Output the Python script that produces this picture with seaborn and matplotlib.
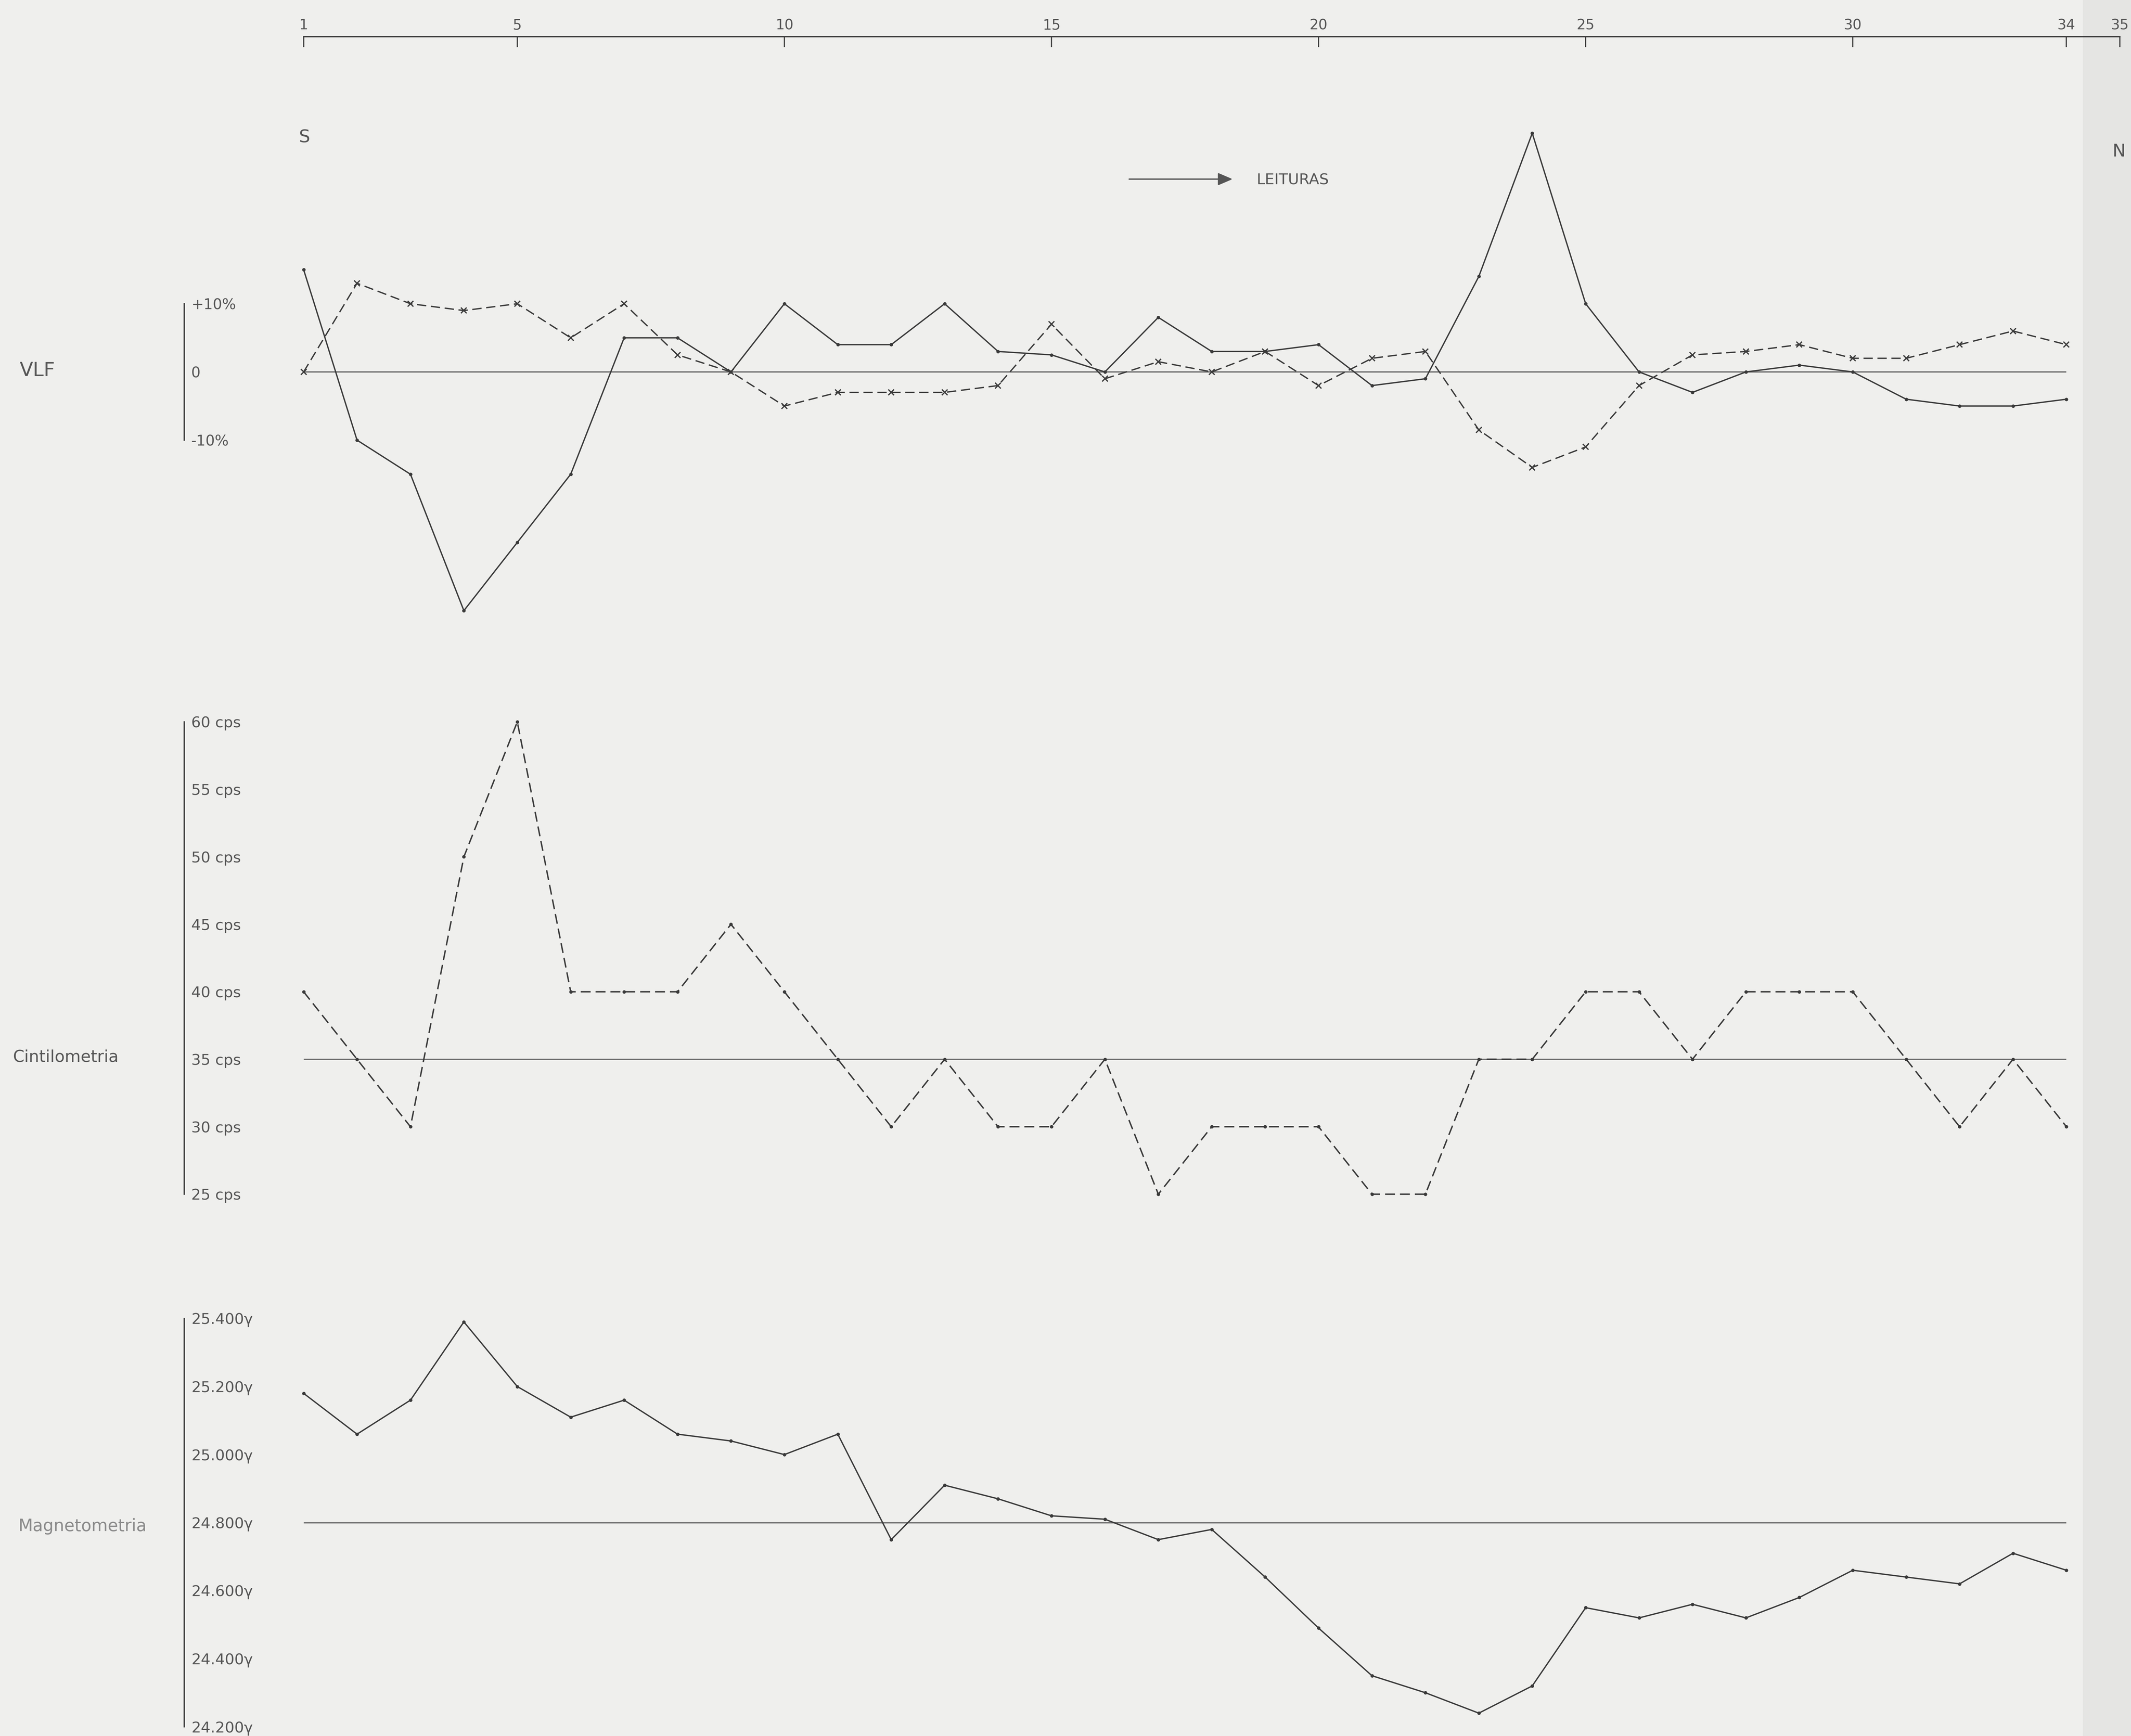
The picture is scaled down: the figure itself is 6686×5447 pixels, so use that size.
import matplotlib
matplotlib.use("Agg")
import matplotlib.pyplot as plt
import seaborn as sns
from matplotlib.patches import Rectangle

# ---- survey data (stations along the S-N profile) ----
stations = list(range(1, 35))
station_ticks = [1, 5, 10, 15, 20, 25, 30, 34, 35]

# VLF readings (%)
vlf_solid = [15, -10, -15, -35, -25, -15, 5, 5, 0, 10, 4, 4, 10, 3, 2.5, 0, 8,
             3, 3, 4, -2, -1, 14, 35, 10, 0, -3, 0, 1, 0, -4, -5, -5, -4]
vlf_dashed = [0, 13, 10, 9, 10, 5, 10, 2.5, 0, -5, -3, -3, -3, -2, 7, -1, 1.5,
              0, 3, -2, 2, 3, -8.5, -14, -11, -2, 2.5, 3, 4, 2, 2, 4, 6, 4]
vlf_ticks = [-10, 0, 10]
vlf_tick_labels = ["-10%", "0", "+10%"]
vlf_base = 0

# Scintillometer readings (cps)
cint = [40, 35, 30, 50, 60, 40, 40, 40, 45, 40, 35, 30, 35, 30, 30, 35, 25,
        30, 30, 30, 25, 25, 35, 35, 40, 40, 35, 40, 40, 40, 35, 30, 35, 30]
cint_ticks = [25, 30, 35, 40, 45, 50, 55, 60]
cint_tick_labels = [f"{v} cps" for v in cint_ticks]
cint_base = 35

# Magnetometer readings (gamma)
mag = [25180, 25060, 25160, 25390, 25200, 25110, 25160, 25060, 25040, 25000,
       25060, 24750, 24910, 24870, 24820, 24810, 24750, 24780, 24640, 24490,
       24350, 24300, 24240, 24320, 24550, 24520, 24560, 24520, 24580, 24660,
       24640, 24620, 24710, 24660]
mag_ticks = [24200, 24400, 24600, 24800, 25000, 25200, 25400]
mag_tick_labels = ["24.200\u03b3", "24.400\u03b3", "24.600\u03b3", "24.800\u03b3",
                   "25.000\u03b3", "25.200\u03b3", "25.400\u03b3"]
mag_base = 24800

# ---- page geometry (pixels on the sheet) ----
W, H = 6686, 5447
DPI = 100
X0, DX = 952.6, 167.6          # x of station 1, spacing between stations
BRACKET_X = 578                 # x of the scale brackets
INK = "#3a3a3a"
SOFT = "#555555"
BASE = "#707070"
PAPER = "#efefed"

sns.set_style("white")
plt.rcParams["font.family"] = ["DejaVu Sans"]

fig = plt.figure(figsize=(W / DPI, H / DPI), dpi=DPI, facecolor=PAPER)

s_left = 1 - X0 / DX
s_right = 1 + (W - X0) / DX
s_bracket = 1 + (BRACKET_X - X0) / DX


def panel(y_top, y_bottom):
    ax = fig.add_axes([0, 1 - y_bottom / H, 1, (y_bottom - y_top) / H])
    ax.set_facecolor("none")
    ax.set_xlim(s_left, s_right)
    for side in ("top", "right", "bottom"):
        ax.spines[side].set_visible(False)
    ax.set_xticks([])
    return ax


def bracket(ax, ticks, labels, size):
    sp = ax.spines["left"]
    sp.set_position(("data", s_bracket))
    sp.set_bounds(ticks[0], ticks[-1])
    sp.set_color(INK)
    sp.set_linewidth(3.0)
    ax.set_yticks(ticks)
    ax.set_yticklabels(labels)
    ax.tick_params(axis="y", direction="in", length=11, width=2.6,
                   color=INK, pad=-16, labelsize=size, labelcolor=SOFT)
    for t in ax.get_yticklabels():
        t.set_horizontalalignment("left")


# ---- station scale along the top ----
ax_top = panel(115, 200)
ax_top.spines["left"].set_visible(False)
ax_top.set_yticks([])
ax_top.spines["top"].set_visible(True)
ax_top.spines["top"].set_bounds(station_ticks[0], station_ticks[-1])
ax_top.spines["top"].set_color(INK)
ax_top.spines["top"].set_linewidth(3.0)
ax_top.set_xticks(station_ticks)
ax_top.set_xticklabels([str(s) for s in station_ticks])
ax_top.tick_params(axis="x", direction="in", length=24, width=2.6, color=INK,
                   top=True, bottom=False, labeltop=True, labelbottom=False,
                   pad=10, labelsize=32, labelcolor=SOFT)

# ---- VLF ----
zero_y, px_vlf = 1167, 21.4
ax_vlf = panel(300, 2000)
ax_vlf.set_ylim((zero_y - 2000) / px_vlf, (zero_y - 300) / px_vlf)
ax_vlf.hlines(vlf_base, stations[0], stations[-1], color=BASE, lw=3.0, zorder=1)
sns.lineplot(x=stations, y=vlf_solid, ax=ax_vlf, color=INK, linewidth=3.0,
             marker="o", markersize=7, markeredgecolor=INK, markerfacecolor=INK,
             errorbar=None, zorder=3)
sns.lineplot(x=stations, y=vlf_dashed, ax=ax_vlf, color=INK, linewidth=3.0,
             linestyle=(0, (7, 3.5)), marker="x", markersize=13,
             markeredgewidth=2.8, markeredgecolor=INK, errorbar=None, zorder=3)
bracket(ax_vlf, vlf_ticks, vlf_tick_labels, 33)

# ---- Cintilometria ----
ax_cint = panel(2150, 3850)
px_cint = (3747 - 2265) / 35
ax_cint.set_ylim(60 - (3850 - 2265) / px_cint, 60 + (2265 - 2150) / px_cint)
ax_cint.hlines(cint_base, stations[0], stations[-1], color=BASE, lw=3.0, zorder=1)
sns.lineplot(x=stations, y=cint, ax=ax_cint, color=INK, linewidth=3.2,
             linestyle=(0, (7, 3.5)), marker="o", markersize=7,
             markeredgecolor=INK, markerfacecolor=INK, errorbar=None, zorder=3)
bracket(ax_cint, cint_ticks, cint_tick_labels, 34)

# ---- Magnetometria ----
ax_mag = panel(4050, H)
MAG_TOP_Y, MAG_BOT_Y = 4137, 5418
px_mag = (MAG_BOT_Y - MAG_TOP_Y) / 1200
ax_mag.set_ylim(25400 - (H - MAG_TOP_Y) / px_mag, 25400 + (MAG_TOP_Y - 4050) / px_mag)
ax_mag.hlines(mag_base, stations[0], stations[-1], color=BASE, lw=3.0, zorder=1)
sns.lineplot(x=stations, y=mag, ax=ax_mag, color=INK, linewidth=3.0,
             marker="o", markersize=7, markeredgecolor=INK, markerfacecolor=INK,
             errorbar=None, zorder=3)
bracket(ax_mag, mag_ticks, mag_tick_labels, 34)

for ax in (ax_vlf, ax_cint, ax_mag):
    ax.set_xlabel("")
    ax.set_ylabel("")
    ax.set_xlim(s_left, s_right)


def fx(px):
    return px / W


def fy(py):
    return 1 - py / H


# ---- panel names, orientation and legend ----
fig.text(fx(62), fy(1163), "VLF", fontsize=44, color=SOFT, ha="left", va="center")
fig.text(fx(40), fy(3318), "Cintilometria", fontsize=37, color=SOFT,
         ha="left", va="center")
fig.text(fx(58), fy(4789), "Magnetometria", fontsize=38, color="#8a8a8a",
         ha="left", va="center")
fig.text(fx(955), fy(431), "S", fontsize=40, color=SOFT, ha="center", va="center")
fig.text(fx(6648), fy(476), "N", fontsize=40, color=SOFT, ha="center", va="center")

fig.add_artist(matplotlib.patches.FancyArrowPatch(
    (fx(3540), fy(562)), (fx(3870), fy(562)), transform=fig.transFigure,
    arrowstyle="-|>,head_length=1.4,head_width=0.6", mutation_scale=20,
    color=SOFT, lw=3.0))
fig.text(fx(3942), fy(566), "LEITURAS", fontsize=34, color=SOFT,
         ha="left", va="center")

# slightly shaded strip at the right edge of the sheet
fig.patches.append(Rectangle((fx(6535), 0), 1 - fx(6535), 1,
                             transform=fig.transFigure, facecolor="#e5e5e3",
                             edgecolor="none", zorder=-1))

fig.savefig("out.png", dpi=DPI, facecolor=PAPER)
